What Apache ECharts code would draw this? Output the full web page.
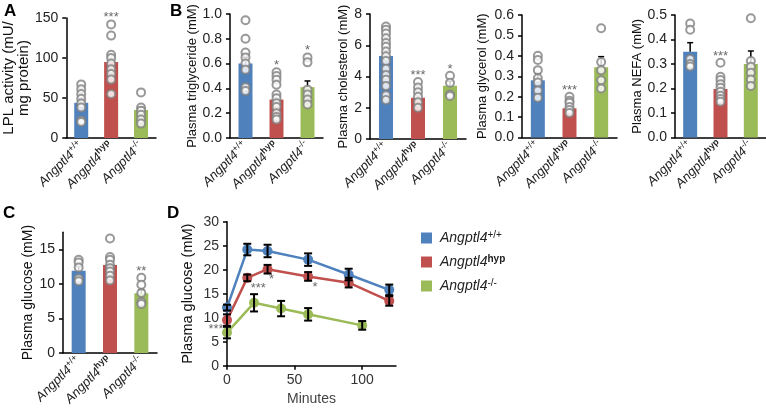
<!DOCTYPE html>
<html><head><meta charset="utf-8">
<script src="https://cdn.jsdelivr.net/npm/echarts@6/dist/echarts.min.js"></script>
<style>html,body{margin:0;padding:0;background:#fff}#c{width:766px;height:410px}</style>
</head><body><div id="c"></div>
<script>
const FF = 'Liberation Sans, Arial, sans-serif';
const genotypes = ['+/+', 'hyp', '-/-'];
const colors = ['#4F81BD', '#C0504D', '#9BBB59'];

// Panel A: LPL activity
const lplMean = [44, 95, 35];
const lplErr = [5, 8, 4];
const lplDots = [[67, 61, 55, 49, 43, 38, 22, 20], [142, 128, 104, 100, 93, 86, 80, 73, 55], [57, 38, 34, 29, 23, 18]];
const lplStars = ['', '***', ''];
// Panel B1: triglyceride
const tgMean = [0.60, 0.31, 0.41];
const tgErr = [0.05, 0.04, 0.05];
const tgDots = [[0.95, 0.80, 0.69, 0.65, 0.60, 0.55, 0.41, 0.38], [0.53, 0.50, 0.47, 0.43, 0.35, 0.32, 0.28, 0.25, 0.20, 0.17, 0.15], [0.65, 0.61, 0.39, 0.35, 0.31, 0.27]];
const tgStars = ['', '*', '*'];
// Panel B2: cholesterol
const cholMean = [5.31, 2.64, 3.41];
const cholErr = [0.35, 0.18, 0.3];
const cholDots = [[7.2, 7.0, 6.75, 6.45, 6.15, 5.9, 5.6, 5.3, 5.0, 4.5, 4.1, 3.8, 3.4, 2.8, 2.5], [3.65, 3.3, 3.0, 2.7, 2.35, 2.0], [4.05, 3.6, 2.85, 2.75]];
const cholStars = ['', '***', '*'];
// Panel B3: glycerol
const glyMean = [0.28, 0.143, 0.344];
const glyErr = [0.034, 0.01, 0.052];
const glyDots = [[0.40, 0.38, 0.33, 0.29, 0.27, 0.23, 0.195], [0.20, 0.18, 0.17, 0.15, 0.135, 0.12], [0.535, 0.37, 0.33, 0.28, 0.24]];
const glyStars = ['', '***', ''];
// Panel B4: NEFA
const nefaMean = [0.35, 0.198, 0.30];
const nefaErr = [0.037, 0.012, 0.053];
const nefaDots = [[0.465, 0.44, 0.32, 0.30, 0.29], [0.305, 0.248, 0.235, 0.217, 0.203, 0.187, 0.17, 0.157, 0.146], [0.487, 0.312, 0.289, 0.264, 0.237, 0.21]];
const nefaStars = ['', '***', ''];
// Panel C: glucose
const gluMean = [11.93, 12.75, 8.65];
const gluErr = [0.6, 0.6, 0.5];
const gluDots = [[13.5, 13.1, 12.4, 10.8, 10.4], [16.6, 13.9, 13.5, 12.8, 12.3, 11.8, 11.2, 10.5], [10.9, 9.9, 8.7, 7.4, 7.1]];
const gluStars = ['', '', '**'];
// Panel D: glucose tolerance
const gttTimes = [[0, 15, 30, 60, 90, 120], [0, 15, 30, 60, 90, 120], [0, 20, 40, 60, 100]];
const gttMean = [[12.1, 24.2, 23.9, 22.1, 19.0, 15.8], [9.5, 18.3, 20.1, 18.6, 17.3, 13.5], [6.9, 13.1, 11.9, 10.7, 8.4]];
const gttErr = [[0.6, 1.2, 1.3, 1.3, 1.2, 1.1], [1.2, 0.7, 0.9, 0.9, 1.0, 1.0], [1.2, 1.8, 1.6, 1.3, 0.9]];
const gttStars = [{g: 1, t: 15, text: '***'}, {g: 1, t: 30, text: '*'}, {g: 1, t: 60, text: '*'}, {g: 1, t: 0, text: '***'}];
const gttStarOffsets = [[11, 11], [4, 10.5], [7, 11], [-11, 9]];

const panels = [
  {grid: {left: 63, top: 18, width: 93, height: 120}, mean: lplMean, err: lplErr, dots: lplDots, stars: lplStars, y: {min: 0, max: 150, interval: 50}, name: 'LPL activity (mU/\nmg protein)', nameSize: 15, nameGap: 31, dec: 0},
  {grid: {left: 230, top: 14, width: 93, height: 124}, mean: tgMean, err: tgErr, dots: tgDots, stars: tgStars, y: {min: 0, max: 1, interval: 0.2}, name: 'Plasma triglyceride (mM)', nameSize: 13, nameGap: 29, dec: 1},
  {grid: {left: 370, top: 14, width: 96, height: 125}, mean: cholMean, err: cholErr, dots: cholDots, stars: cholStars, y: {min: 0, max: 8, interval: 2}, name: 'Plasma cholesterol (mM)', nameSize: 13, nameGap: 20, dec: 0},
  {grid: {left: 522, top: 15, width: 95, height: 122.5}, mean: glyMean, err: glyErr, dots: glyDots, stars: glyStars, y: {min: 0, max: 0.6, interval: 0.1}, name: 'Plasma glycerol (mM)', nameSize: 13, nameGap: 33, dec: 1},
  {grid: {left: 675, top: 15, width: 96, height: 122.5}, mean: nefaMean, err: nefaErr, dots: nefaDots, stars: nefaStars, y: {min: 0, max: 0.5, interval: 0.1}, name: 'Plasma NEFA (mM)', nameSize: 13, nameGap: 31, dec: 1},
  {grid: {left: 63, top: 232.25, width: 94, height: 120.75}, mean: gluMean, err: gluErr, dots: gluDots, stars: gluStars, y: {min: 0, max: 17.5, interval: 5}, name: 'Plasma glucose (mM)', nameSize: 14, nameGap: 25, dec: 0, hideMax: true}
];

const axisLineStyle = {show: true, lineStyle: {color: '#000', width: 1.5}};
const tickLabel = {fontSize: 14, color: '#222', fontFamily: FF, margin: 8};
const catRich = {
  a: {fontStyle: 'italic', fontSize: 13, color: '#222', fontFamily: FF, lineHeight: 17},
  s: {fontSize: 9, color: '#222', fontFamily: FF, verticalAlign: 'top', lineHeight: 10},
  sb: {fontSize: 9, fontWeight: 'bold', color: '#222', fontFamily: FF, verticalAlign: 'top', lineHeight: 10}
};
function supLabel(g) { return '{a|Angptl4}{' + (g === 'hyp' ? 'sb' : 's') + '|' + g + '}'; }

function errRender(capW, both) {
  return function (params, api) {
    const x = api.value(0), m = api.value(1), e = api.value(2);
    const pHi = api.coord([x, m + e]);
    const pLo = api.coord([x, both ? m - e : m]);
    const st = {stroke: '#000', lineWidth: both ? 2 : 1.5};
    const ch = [
      {type: 'line', shape: {x1: pHi[0], y1: pLo[1], x2: pHi[0], y2: pHi[1]}, style: st},
      {type: 'line', shape: {x1: pHi[0] - capW / 2, y1: pHi[1], x2: pHi[0] + capW / 2, y2: pHi[1]}, style: st}
    ];
    if (both) ch.push({type: 'line', shape: {x1: pHi[0] - capW / 2, y1: pLo[1], x2: pHi[0] + capW / 2, y2: pLo[1]}, style: st});
    return {type: 'group', children: ch};
  };
}

const grids = [], xAxes = [], yAxes = [], series = [];
panels.forEach((p, i) => {
  grids.push(Object.assign({containLabel: false}, p.grid));
  xAxes.push({
    type: 'category', gridIndex: i, data: genotypes, boundaryGap: true,
    axisLine: axisLineStyle, axisTick: {show: false},
    axisLabel: {interval: 0, rotate: 45, margin: 6, formatter: supLabel, rich: catRich}
  });
  yAxes.push({
    type: 'value', gridIndex: i, min: p.y.min, max: p.y.max, interval: p.y.interval,
    splitLine: {show: false}, axisLine: axisLineStyle,
    axisTick: {show: true, length: 4, lineStyle: {color: '#000', width: 1.5}},
    axisLabel: Object.assign({}, tickLabel, {showMaxLabel: !p.hideMax, formatter: v => v.toFixed(p.dec)}),
    name: p.name, nameLocation: 'middle', nameRotate: 90, nameGap: p.nameGap,
    nameTextStyle: {fontSize: p.nameSize, color: '#111', fontFamily: FF, lineHeight: p.nameSize}
  });
  series.push({
    type: 'bar', xAxisIndex: i, yAxisIndex: i, barWidth: 14, z: 1,
    data: p.mean.map((v, k) => ({value: v, itemStyle: {color: colors[k]}}))
  });
  series.push({
    type: 'custom', xAxisIndex: i, yAxisIndex: i, z: 2, renderItem: errRender(6, false),
    data: p.mean.map((v, k) => [k, v, p.err[k]])
  });
  const dotData = [];
  p.dots.forEach((arr, k) => arr.forEach(v => dotData.push([k, v])));
  series.push({
    type: 'scatter', xAxisIndex: i, yAxisIndex: i, z: 3, symbol: 'circle', symbolSize: 8,
    itemStyle: {color: '#fff', borderColor: '#7f7f7f', borderWidth: 2}, data: dotData
  });
  const starData = [];
  p.stars.forEach((s, k) => {
    if (s) starData.push({value: [k, Math.max(Math.max(...p.dots[k]), p.mean[k] + p.err[k])], label: {formatter: s}});
  });
  series.push({
    type: 'scatter', xAxisIndex: i, yAxisIndex: i, z: 4, symbolSize: 0, silent: true,
    label: {show: true, position: 'top', distance: 0, fontSize: 13, color: '#444', fontFamily: FF},
    data: starData
  });
});

// Panel D
const di = panels.length;
grids.push({left: 227, top: 221.7, width: 169, height: 144});
xAxes.push({
  type: 'value', gridIndex: di, min: 0, max: 125, interval: 50,
  splitLine: {show: false}, axisLine: axisLineStyle,
  axisTick: {show: true, length: 4, lineStyle: {color: '#000', width: 1.5}},
  axisLabel: Object.assign({}, tickLabel, {showMaxLabel: false, margin: 7, color: '#333'}),
  name: 'Minutes', nameLocation: 'middle', nameGap: 26,
  nameTextStyle: {fontSize: 14, color: '#444', fontFamily: FF}
});
yAxes.push({
  type: 'value', gridIndex: di, min: 0, max: 30, interval: 5,
  splitLine: {show: false}, axisLine: axisLineStyle,
  axisTick: {show: true, length: 4, lineStyle: {color: '#000', width: 1.5}},
  axisLabel: Object.assign({}, tickLabel, {color: '#333'}),
  name: 'Plasma glucose (mM)', nameLocation: 'middle', nameRotate: 90, nameGap: 32,
  nameTextStyle: {fontSize: 14.5, color: '#111', fontFamily: FF}
});
genotypes.forEach((g, k) => {
  series.push({
    name: g, type: 'line', xAxisIndex: di, yAxisIndex: di, z: 3,
    symbol: 'circle', symbolSize: 10, color: colors[k],
    lineStyle: {width: 2.5, color: colors[k]}, itemStyle: {color: colors[k]},
    data: gttTimes[k].map((t, j) => [t, gttMean[k][j]])
  });
  series.push({
    type: 'custom', xAxisIndex: di, yAxisIndex: di, z: 4, renderItem: errRender(8, true),
    data: gttTimes[k].map((t, j) => [t, gttMean[k][j], gttErr[k][j]])
  });
});
series.push({
  type: 'scatter', xAxisIndex: di, yAxisIndex: di, z: 5, symbolSize: 0, silent: true,
  label: {show: true, position: 'inside', fontSize: 13, color: '#444', fontFamily: FF},
  data: gttStars.map((s, n) => ({
    value: [s.t, gttMean[s.g][gttTimes[s.g].indexOf(s.t)]],
    label: {formatter: s.text, offset: gttStarOffsets[n]}
  }))
});

const letters = [['A', 4, 3], ['B', 170, 3], ['C', 3, 205], ['D', 167, 205]];

const chart = echarts.init(document.getElementById('c'), null, {renderer: 'canvas'});
chart.setOption({
  animation: false,
  backgroundColor: '#fff',
  grid: grids, xAxis: xAxes, yAxis: yAxes, series: series,
  legend: {
    data: genotypes, orient: 'vertical', left: 416, top: 225,
    icon: 'rect', itemWidth: 11, itemHeight: 11, itemGap: 9,
    formatter: supLabel,
    textStyle: {
      padding: [0, 0, 0, 3],
      rich: {
        a: {fontStyle: 'italic', fontSize: 14, color: '#222', fontFamily: FF, lineHeight: 16},
        s: {fontSize: 10, color: '#222', fontFamily: FF, verticalAlign: 'top', lineHeight: 10},
        sb: {fontSize: 10, fontWeight: 'bold', color: '#222', fontFamily: FF, verticalAlign: 'top', lineHeight: 10}
      }
    }
  },
  graphic: letters.map(l => ({
    type: 'text', left: l[1], top: l[2],
    style: {text: l[0], font: 'bold 17px ' + FF, fill: '#000'}
  }))
});
</script></body></html>
